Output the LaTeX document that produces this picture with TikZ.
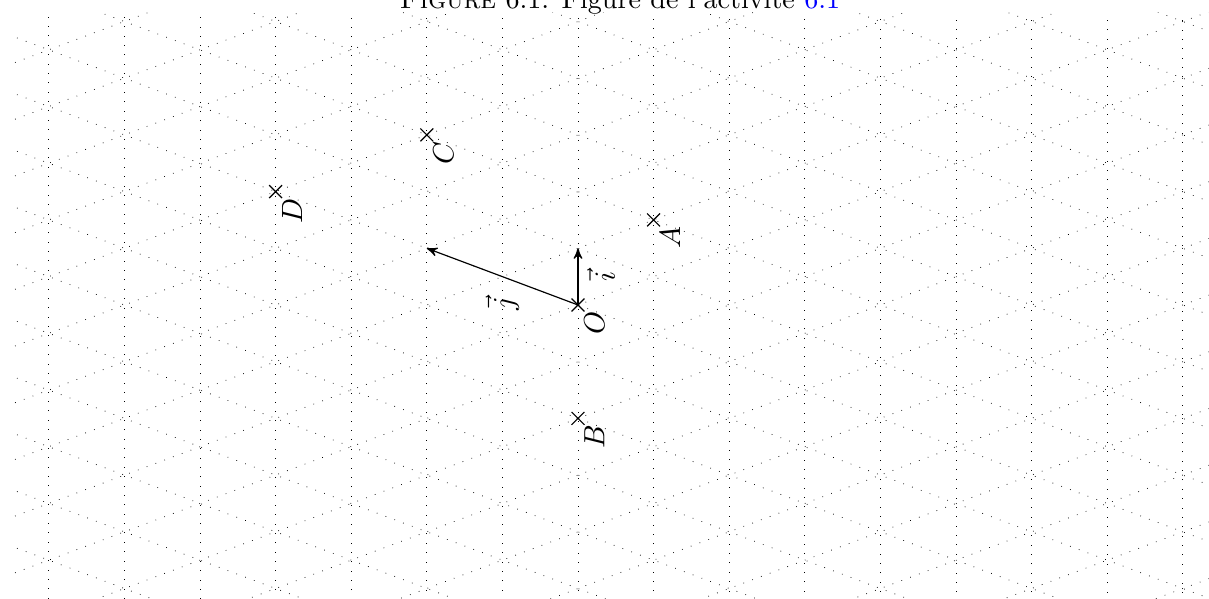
\documentclass[tikz,border=0pt]{standalone}
\usepackage{amsmath, amssymb}
\usepackage{tikz}
\usetikzlibrary{arrows,%
                shapes.misc,positioning}
\usepackage{color}
\definecolor{linkblue}{rgb}{0,0,1}

\begin{document}
\begin{tikzpicture}[x = {(0cm,0.6804cm)},
                    y = {(-1.8144cm,0.6804cm)},
                    >=stealth']
  \useasboundingbox (-6.936cm,-3.528cm) rectangle (7.572cm,3.66cm);
  \tikzset{GridStyle/.style   = {line width     = 0.25pt,
                                 dash pattern   = on 0.25pt off 2.95pt}}
  \tikzset{PointStyle/.style  = {draw,
                                 cross out,
                                 inner sep      = 0pt,
                                 outer sep      = 0pt,
                                 minimum size   = 4.4pt}}
  \tikzset{LabelStyle/.style  = {rotate         = 90,
                                 inner sep      = 2pt}}
  \tikzset{VectorStyle/.style = {->,
                                 line width     = 0.4pt}}
  % la grille
  \begin{scope}
    \clip (-6.816cm,-3.528cm) rectangle (7.572cm,3.504cm);
    \foreach \b in {-4,-3.5,...,3.5}
      \draw[GridStyle] (-10,\b) -- (10,\b);
    \foreach \a in {-10,...,10}{
      \draw[GridStyle] (\a,-5) -- (\a,5);
      \draw[GridStyle] ({\a-10},5) -- ({\a+10},-5);
    }
  \end{scope}
  \node[anchor=base] (Caption) at (0.504cm,3.558cm)
     {\fontsize{9.6}{11}\selectfont
      \textsc{Figure} 6.1: Figure de l'activité \textcolor{linkblue}{6.1}};
     \node[PointStyle](O) at (0,0) {};
     \node[PointStyle](A) at (2,-0.5) {};
     \node[PointStyle](B) at (-2,0) {};
     \node[PointStyle](C) at (2,1) {};
     \node[PointStyle](D) at (0,2) {};
     \coordinate (I) at (1,0);
     \coordinate (J) at (0,1);
     \draw[VectorStyle](O.center) -- (I) coordinate[midway] (MidI);
     \draw[VectorStyle](O.center) -- (J) coordinate[midway] (MidJ);
     \node[LabelStyle,below left](LabelO) at (O.center) {$O$};
     \node[LabelStyle,below left](LabelA) at (A.center) {$A$};
     \node[LabelStyle,below left](LabelB) at (B.center) {$B$};
     \node[LabelStyle,below left](LabelC) at (C.center) {$C$};
     \node[LabelStyle,below left](LabelD) at (D.center) {$D$};
     \node[rotate=90](LabelI) at ([xshift=0.276cm]MidI) {$\vec{i}$};
     \node[rotate=90](LabelJ) at ([yshift=-0.324cm]MidJ) {$\vec{j}$};
  \end{tikzpicture}
\end{document}
